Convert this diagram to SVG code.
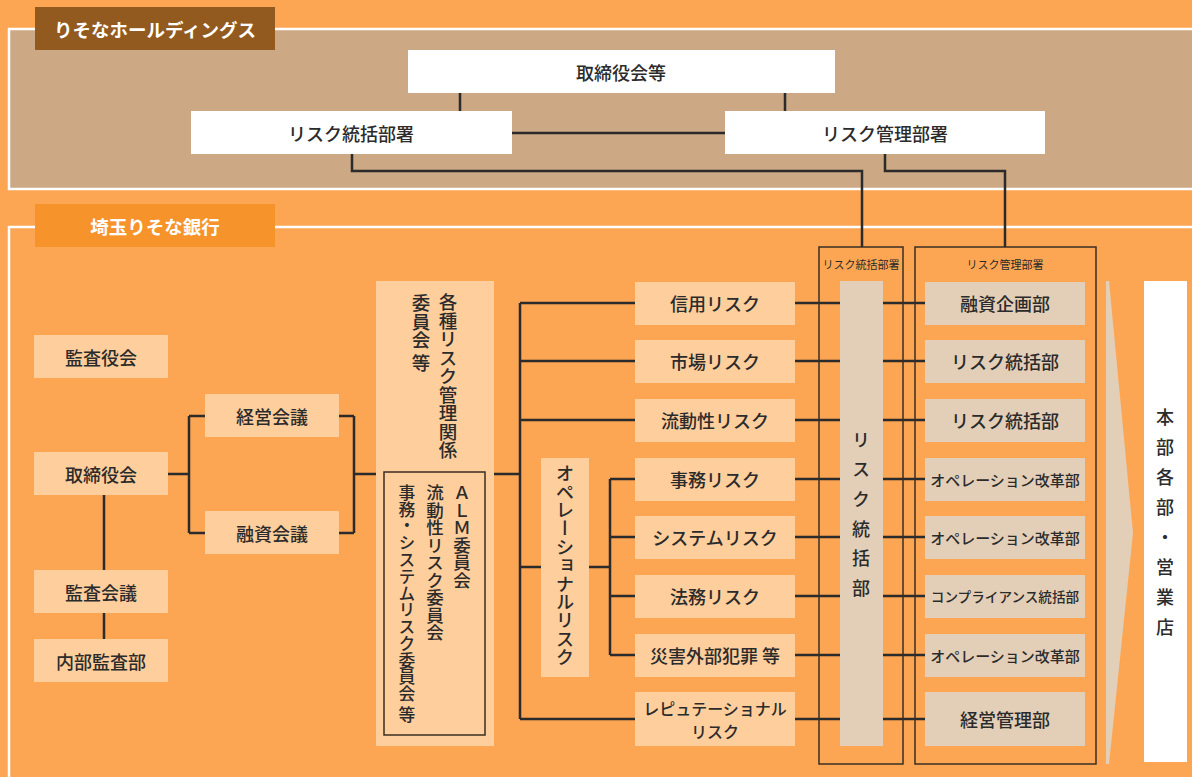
<svg xmlns="http://www.w3.org/2000/svg" width="1192" height="777" viewBox="0 0 1192 777">
<style>
text { font-family: "Noto Sans CJK JP", "Noto Sans", sans-serif; fill: #2b2b2b; }
.t { font-size: 18px; text-anchor: middle; dominant-baseline: central; font-weight: 500; }
.t16 { font-size: 16px; text-anchor: middle; dominant-baseline: central; font-weight: 500; }
.t15 { font-size: 15px; text-anchor: middle; dominant-baseline: central; font-weight: 500; }
.t14 { font-size: 13.6px; text-anchor: middle; dominant-baseline: central; font-weight: 500; }
.hd { font-size: 18.5px; font-weight: bold; fill: #ffffff; text-anchor: middle; dominant-baseline: central; }
.v { writing-mode: vertical-rl; font-weight: 500; }
.sm { font-size: 11px; text-anchor: middle; dominant-baseline: central; }
.peach { fill: #FFCE9D; }
.beige { fill: #E3CFB8; }
.white { fill: #ffffff; }
.ln { fill: none; stroke: #2b2b2b; stroke-width: 2.5; }
.fr { fill: none; stroke: #3a2e22; stroke-width: 1.5; }
</style>
<rect x="0" y="0" width="1192" height="777" fill="#FCA653"/>
<g id="holdings-frame">
  <rect x="9" y="29" width="1200" height="160" fill="#CDA885" stroke="#ffffff" stroke-width="2.5"/>
</g>
<g id="bank-frame">
  <rect x="9" y="227" width="1200" height="600" fill="none" stroke="#ffffff" stroke-width="2.5"/>
</g>
<g id="label-holdings">
  <rect x="35" y="7" width="240" height="43" fill="#925A1E"/>
  <text class="hd" x="155" y="28.5">りそなホールディングス</text>
</g>
<g id="label-bank">
  <rect x="35" y="204" width="240" height="43" fill="#F7932B"/>
  <text class="hd" x="155" y="225.5">埼玉りそな銀行</text>
</g>

<g id="connectors">
  <path class="ln" d="M460,93 V111 M785,93 V111 M512,133 H725"/>
  <path class="ln" d="M352,154 V171 H862 V247"/>
  <path class="ln" d="M885,154 V171 H1005 V247"/>
  <path class="ln" d="M167,474 H189 M189,416 V533 M189,416 H205 M189,533 H205"/>
  <path class="ln" d="M338,416 H354 M338,533 H354 M354,416 V533 M354,474 H520"/>
  <path class="ln" d="M104,494 V570 M104,613 V639"/>
  <path class="ln" d="M520,303 V719 M520,303 H635 M520,361 H635 M520,420 H635 M520,719 H635 M520,567 H610"/>
  <path class="ln" d="M610,479 V655 M610,479 H635 M610,537 H635 M610,596 H635 M610,655 H635"/>
  <path class="ln" d="M795,303 H925 M795,361 H925 M795,420 H925 M795,479 H925 M795,537 H925 M795,596 H925 M795,655 H925 M795,719 H925"/>
</g>

<g id="hd-torishimariyakukai">
  <rect class="white" x="408" y="50" width="427" height="43"/>
  <text class="t" x="621" y="71.5">取締役会等</text>
</g>
<g id="hd-risk-tokatsu">
  <rect class="white" x="191" y="111" width="321" height="43"/>
  <text class="t" x="351" y="132.5">リスク統括部署</text>
</g>
<g id="hd-risk-kanri">
  <rect class="white" x="725" y="111" width="320" height="43"/>
  <text class="t" x="885" y="132.5">リスク管理部署</text>
</g>

<g id="n-kansayakukai">
  <rect class="peach" x="34" y="335" width="134" height="43"/>
  <text class="t" x="101" y="356.5">監査役会</text>
</g>
<g id="n-torishimariyakukai">
  <rect class="peach" x="34" y="452" width="134" height="43"/>
  <text class="t" x="101" y="473.5">取締役会</text>
</g>
<g id="n-kansakaigi">
  <rect class="peach" x="34" y="570" width="134" height="43"/>
  <text class="t" x="101" y="591.5">監査会議</text>
</g>
<g id="n-naibukansabu">
  <rect class="peach" x="34" y="639" width="134" height="43"/>
  <text class="t" x="101" y="660.5">内部監査部</text>
</g>
<g id="n-keieikaigi">
  <rect class="peach" x="205" y="394" width="134" height="43"/>
  <text class="t" x="272" y="415.5">経営会議</text>
</g>
<g id="n-yushikaigi">
  <rect class="peach" x="205" y="511" width="134" height="43"/>
  <text class="t" x="272" y="532.5">融資会議</text>
</g>

<g id="n-committees">
  <rect class="peach" x="376" y="281" width="118" height="465"/>
  <text class="v" x="448" y="293" font-size="18.5">各種リスク管理関係</text>
  <text class="v" x="421" y="294" font-size="18.5">委員会 等</text>
  <rect class="fr" x="384" y="472" width="101" height="263"/>
  <text class="v" x="462" y="484" font-size="17.5">ＡＬＭ委員会</text>
  <text class="v" x="435" y="484" font-size="17.5">流動性リスク委員会</text>
  <text class="v" x="407" y="484" font-size="16.8">事務・システムリスク委員会 等</text>
</g>

<g id="n-operational">
  <rect class="peach" x="541" y="458" width="48" height="219"/>
  <text class="v" x="565" y="464" font-size="18.4">オペレーショナルリスク</text>
</g>

<g id="r-shinyo"><rect class="peach" x="635" y="282" width="160" height="43"/><text class="t" x="715" y="303">信用リスク</text></g>
<g id="r-shijo"><rect class="peach" x="635" y="340" width="160" height="43"/><text class="t" x="715" y="361">市場リスク</text></g>
<g id="r-ryudosei"><rect class="peach" x="635" y="399" width="160" height="43"/><text class="t" x="715" y="420">流動性リスク</text></g>
<g id="r-jimu"><rect class="peach" x="635" y="458" width="160" height="43"/><text class="t" x="715" y="479">事務リスク</text></g>
<g id="r-system"><rect class="peach" x="635" y="516" width="160" height="43"/><text class="t" x="715" y="537">システムリスク</text></g>
<g id="r-homu"><rect class="peach" x="635" y="575" width="160" height="43"/><text class="t" x="715" y="596">法務リスク</text></g>
<g id="r-saigai"><rect class="peach" x="635" y="634" width="160" height="43"/><text class="t" x="715" y="655">災害外部犯罪 等</text></g>
<g id="r-reputation"><rect class="peach" x="635" y="692" width="160" height="54"/><text class="t16" x="715" y="708">レピュテーショナル</text><text class="t16" x="715" y="731">リスク</text></g>

<g id="col-risk-tokatsu">
  <rect class="fr" x="819" y="247" width="84" height="517"/>
  <text class="sm" x="861" y="264">リスク統括部署</text>
  <rect class="beige" x="840" y="281" width="43" height="465"/>
  <text class="v" x="861" y="431" font-size="18" letter-spacing="11.6">リスク統括部</text>
</g>

<g id="col-risk-kanri">
  <rect class="fr" x="915" y="247" width="181" height="517"/>
  <text class="sm" x="1005" y="264">リスク管理部署</text>
</g>
<g id="d-yushikikaku"><rect class="beige" x="925" y="282" width="160" height="43"/><text class="t" x="1005" y="303">融資企画部</text></g>
<g id="d-risktokatsu1"><rect class="beige" x="925" y="340" width="160" height="43"/><text class="t" x="1005" y="361">リスク統括部</text></g>
<g id="d-risktokatsu2"><rect class="beige" x="925" y="399" width="160" height="43"/><text class="t" x="1005" y="420">リスク統括部</text></g>
<g id="d-ope1"><rect class="beige" x="925" y="458" width="160" height="43"/><text class="t15" x="1005" y="479">オペレーション改革部</text></g>
<g id="d-ope2"><rect class="beige" x="925" y="516" width="160" height="43"/><text class="t15" x="1005" y="537">オペレーション改革部</text></g>
<g id="d-compliance"><rect class="beige" x="925" y="575" width="160" height="43"/><text class="t14" x="1005" y="596">コンプライアンス統括部</text></g>
<g id="d-ope3"><rect class="beige" x="925" y="634" width="160" height="43"/><text class="t15" x="1005" y="655">オペレーション改革部</text></g>
<g id="d-keieikanri"><rect class="beige" x="925" y="692" width="160" height="54"/><text class="t" x="1005" y="719">経営管理部</text></g>

<g id="arrow">
  <polygon class="beige" points="1106,281 1109,281 1133,533 1109,764 1106,764"/>
</g>
<g id="n-honbu">
  <rect class="white" x="1144" y="281" width="43" height="481"/>
  <text class="v" x="1165" y="408" font-size="18" letter-spacing="12">本部各部・営業店</text>
</g>
</svg>
